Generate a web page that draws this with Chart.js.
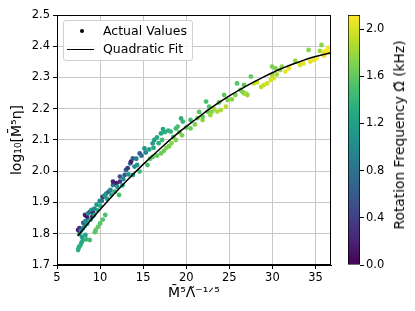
<!DOCTYPE html>
<html>
<head>
<meta charset="utf-8">
<script src="https://cdn.jsdelivr.net/npm/chart.js@4.4.0/dist/chart.umd.min.js"></script>
<style>
  html, body { margin: 0; padding: 0; background: #fff; }
  #wrap { position: relative; width: 415px; height: 311px; font-family: "DejaVu Sans", sans-serif; color: #000; }
  #mainChart { position: absolute; left: 0; top: 0; }
  #barChart { position: absolute; left: 340px; top: 0; }
  .legend {
    position: absolute; left: 63px; top: 20px; width: 128px; height: 39px;
    border: 1px solid #d0d0d0; border-radius: 3px; background: rgba(255,255,255,0.85);
    font-size: 12.5px;
  }
  .legend .row { position: absolute; left: 0; height: 16px; line-height: 16px; }
  .legend .txt { position: absolute; left: 39px; white-space: nowrap; }
  .legend .dot { position: absolute; left: 16px; top: 6px; width: 4px; height: 4px; border-radius: 50%; background: #000; }
  .legend .ln { position: absolute; left: 3px; top: 8px; width: 27px; height: 0; border-top: 1.5px solid #000; }
  .cbtitle {
    position: absolute; left: 399px; top: 135px; font-size: 13.8px; white-space: nowrap;
    transform: translate(-50%, -50%) rotate(-90deg);
  }
</style>
</head>
<body>
<div id="wrap">
  <canvas id="mainChart" width="340" height="311"></canvas>
  <canvas id="barChart" width="75" height="311"></canvas>
  <div class="legend">
    <div class="row" style="top:2px"><span class="dot"></span><span class="txt">Actual Values</span></div>
    <div class="row" style="top:20px"><span class="ln"></span><span class="txt">Quadratic Fit</span></div>
  </div>
  <div class="cbtitle">Rotation Frequency Ω̃ (kHz)</div>
</div>
<script>
// Scatter data: x = M^5 Lambda^(-1/5), y = log10[M^5 eta], colour = rotation frequency (kHz)
const massTerm = [
  7.45, 7.55, 7.7, 7.85, 8.0, 7.9, 8.4, 8.8, 8.3, 7.6,
  7.45, 7.6, 7.8, 8.0, 8.2, 8.05, 8.3, 8.5, 8.6, 8.9,
  9.1, 8.25, 8.45, 8.6, 8.8, 9.0, 9.2, 9.35, 9.6, 9.95,
  9.3, 9.7, 9.5, 9.75, 10.0, 10.3, 9.4, 10.6, 10.3, 10.5,
  10.7, 11.0, 11.2, 11.5, 11.5, 11.9, 12.3, 12.3, 10.2, 10.8,
  11.3, 11.7, 12.2, 12.0, 12.6, 10.0, 12.85, 13.0, 13.5, 13.6,
  13.8, 14.0, 13.3, 13.8, 14.3, 14.6, 14.8, 14.6, 15.15, 15.3,
  15.5, 15.7, 14.2, 13.2, 12.7, 16.1, 16.3, 16.6, 17.07, 17.5,
  16.2, 16.8, 17.2, 16.1, 16.6, 17.07, 17.4, 17.7, 18.0, 15.8,
  17.9, 17.3, 18.2, 18.8, 19.0, 19.4, 19.6, 18.5, 19.2, 20.0,
  20.5, 20.5, 21.0, 18.3, 18.8, 19.5, 21.9, 21.9, 22.3, 22.65,
  22.5, 23.0, 23.6, 24.0, 24.6, 24.8, 24.4, 23.2, 22.8, 21.5,
  21.3, 23.8, 25.7, 25.9, 26.3, 26.7, 26.7, 26.9, 27.1, 27.5,
  27.85, 26.5, 25.3, 28.2, 29.0, 29.4, 29.8, 30.15, 29.96, 30.35,
  30.9, 31.1, 31.5, 31.9, 29.96, 30.5, 28.7, 32.65, 33.6, 33.2,
  34.2, 34.4, 34.8, 35.1, 35.5, 35.7, 35.9, 36.2, 36.5, 36.6, 36.0
];
const logEta = [
  1.748, 1.757, 1.763, 1.772, 1.780, 1.790, 1.782, 1.780, 1.796, 1.800,
  1.812, 1.818, 1.810, 1.817, 1.825, 1.835, 1.840, 1.832, 1.846, 1.845,
  1.855, 1.860, 1.856, 1.865, 1.870, 1.876, 1.866, 1.880, 1.893, 1.905,
  1.860, 1.875, 1.812, 1.822, 1.833, 1.845, 1.805, 1.860, 1.918, 1.922,
  1.928, 1.935, 1.940, 1.956, 1.967, 1.962, 1.967, 1.983, 1.905, 1.912,
  1.925, 1.935, 1.924, 1.950, 1.955, 1.890, 1.988, 2.004, 2.025, 2.031,
  2.041, 2.015, 1.990, 1.988, 2.020, 2.057, 2.050, 1.999, 2.073, 2.060,
  2.020, 2.070, 2.040, 2.010, 1.975, 2.089, 2.100, 2.108, 2.121, 2.125,
  2.075, 2.090, 2.100, 2.046, 2.050, 2.057, 2.065, 2.075, 2.080, 2.040,
  2.130, 2.135, 2.127, 2.137, 2.143, 2.169, 2.159, 2.110, 2.125, 2.140,
  2.164, 2.137, 2.150, 2.090, 2.100, 2.115, 2.164, 2.175, 2.223, 2.207,
  2.191, 2.191, 2.191, 2.196, 2.207, 2.228, 2.244, 2.200, 2.180, 2.190,
  2.170, 2.220, 2.244, 2.281, 2.260, 2.249, 2.276, 2.249, 2.244, 2.303,
  2.281, 2.255, 2.230, 2.285, 2.276, 2.281, 2.292, 2.297, 2.335, 2.329,
  2.324, 2.335, 2.319, 2.329, 2.308, 2.310, 2.270, 2.353, 2.345, 2.340,
  2.388, 2.351, 2.356, 2.360, 2.385, 2.404, 2.380, 2.385, 2.395, 2.380, 2.370
];
const omega = [
  1.35, 1.3, 1.35, 1.25, 1.3, 1.2, 1.4, 1.45, 1.25, 1.1,
  0.2, 0.3, 1.05, 0.9, 1.1, 0.6, 1.0, 1.15, 0.95, 1.2,
  0.15, 0.25, 0.1, 1.05, 0.7, 1.1, 0.2, 1.0, 1.15, 1.0,
  1.2, 1.25, 1.6, 1.6, 1.55, 1.55, 1.55, 1.5, 0.2, 1.05,
  1.1, 0.6, 1.0, 0.8, 0.2, 0.15, 0.3, 0.55, 0.9, 1.2,
  1.25, 1.3, 1.5, 1.15, 1.2, 1.3, 0.6, 0.65, 0.7, 0.15,
  0.6, 1.0, 1.1, 1.25, 1.15, 0.6, 0.75, 1.45, 1.1, 1.0,
  1.5, 1.2, 0.9, 0.35, 1.05, 1.2, 1.15, 1.3, 1.25, 1.35,
  1.3, 1.35, 1.45, 1.6, 1.6, 1.65, 1.65, 1.7, 1.7, 1.55,
  1.35, 1.25, 1.4, 1.45, 1.5, 1.35, 1.4, 1.55, 1.6, 1.6,
  1.45, 1.65, 1.7, 1.75, 1.7, 1.7, 1.75, 1.6, 1.5, 1.55,
  1.6, 1.75, 1.85, 1.85, 1.9, 1.7, 1.6, 1.8, 1.8, 1.55,
  1.7, 1.65, 1.7, 1.55, 1.65, 1.75, 1.6, 1.85, 1.8, 1.6,
  1.95, 1.7, 1.75, 1.95, 1.95, 1.95, 2.0, 2.0, 1.7, 1.7,
  1.75, 1.75, 2.05, 2.05, 1.85, 1.8, 1.9, 1.75, 2.05, 2.0,
  1.75, 2.05, 2.05, 2.1, 1.8, 1.75, 2.05, 2.1, 2.1, 2.1, 2.08
];

// Quadratic fit curve
const fitX = [7.4, 9, 11, 13, 15, 17, 19, 21, 23, 25, 27, 29, 31, 33, 35, 36.8];
const fitY = [1.793, 1.846, 1.908, 1.967, 2.022, 2.073, 2.121, 2.164, 2.205, 2.241, 2.273, 2.302, 2.328, 2.349, 2.367, 2.379];

const omegaMax = 2.12;

// viridis colormap
const viridisStops = ["#440154", "#482475", "#414487", "#355f8d", "#2a788e", "#21918c",
  "#22a884", "#44bf70", "#7ad151", "#bddf26", "#fde725"];

function hexToRgb(h) {
  return [parseInt(h.slice(1, 3), 16), parseInt(h.slice(3, 5), 16), parseInt(h.slice(5, 7), 16)];
}

function viridis(t) {
  t = Math.max(0, Math.min(1, t));
  const pos = t * (viridisStops.length - 1);
  const i = Math.min(Math.floor(pos), viridisStops.length - 2);
  const f = pos - i;
  const a = hexToRgb(viridisStops[i]);
  const b = hexToRgb(viridisStops[i + 1]);
  const c = a.map((v, k) => Math.round(v + (b[k] - v) * f));
  return `rgb(${c[0]}, ${c[1]}, ${c[2]})`;
}

const tickFont = { family: "DejaVu Sans", size: 11.5 };
const titleFont = { family: "DejaVu Sans", size: 14 };

// Black frame round the plot area
const framePlugin = {
  id: "frame",
  afterDraw(chart) {
    const { ctx, chartArea: a } = chart;
    ctx.save();
    ctx.strokeStyle = "#000";
    ctx.lineWidth = 1;
    ctx.strokeRect(a.left + 0.5, a.top + 0.5, a.right - a.left - 1, a.bottom - a.top - 1);
    ctx.restore();
  },
};

new Chart(document.getElementById("mainChart"), {
  type: "scatter",
  data: {
    datasets: [
      {
        label: "Quadratic Fit",
        data: fitX.map((x, i) => ({ x: x, y: fitY[i] })),
        showLine: true,
        borderColor: "#000",
        borderWidth: 1.5,
        pointRadius: 0,
        cubicInterpolationMode: "monotone",
        order: 0,
      },
      {
        label: "Actual Values",
        data: massTerm.map((x, i) => ({ x: x, y: logEta[i] })),
        pointBackgroundColor: omega.map((w) => viridis(w / omegaMax)),
        pointBorderWidth: 0,
        pointRadius: 2.4,
        order: 1,
      },
    ],
  },
  options: {
    responsive: false,
    animation: false,
    layout: { padding: { top: 15, right: 9 } },
    plugins: { legend: { display: false }, tooltip: { enabled: false } },
    scales: {
      x: {
        type: "linear",
        min: 5,
        max: 36.8,
        ticks: { stepSize: 5, includeBounds: false, font: tickFont, color: "#000", padding: 2 },
        grid: { color: "#c8c8c8", lineWidth: 1, tickColor: "#000", tickLength: 4 },
        border: { color: "#000" },
        title: { display: true, text: "M̄⁵Λ̃⁻¹ᐟ⁵", font: titleFont, color: "#000", padding: { top: 0, bottom: 9 } },
        afterFit: (s) => { s.height = 46; },
      },
      y: {
        min: 1.7,
        max: 2.5,
        ticks: { stepSize: 0.1, font: tickFont, color: "#000", padding: 3, callback: (v) => v.toFixed(1) },
        grid: { color: "#c8c8c8", lineWidth: 1, tickColor: "#000", tickLength: 4 },
        border: { color: "#000" },
        title: { display: true, text: "log₁₀[M̄⁵η]", font: titleFont, color: "#000", padding: { top: 9, bottom: 0 } },
        afterFit: (s) => { s.width = 57; },
      },
    },
  },
  plugins: [framePlugin],
});

// Colour bar
new Chart(document.getElementById("barChart"), {
  type: "bar",
  data: {
    labels: [""],
    datasets: [
      {
        data: [omegaMax],
        backgroundColor: function (context) {
          const { ctx, chartArea } = context.chart;
          if (!chartArea) return "#888";
          const g = ctx.createLinearGradient(0, chartArea.bottom, 0, chartArea.top);
          viridisStops.forEach((c, i) => g.addColorStop(i / (viridisStops.length - 1), c));
          return g;
        },
        borderColor: "#000",
        borderWidth: 1,
        borderSkipped: false,
        barPercentage: 1,
        categoryPercentage: 1,
      },
    ],
  },
  options: {
    responsive: false,
    animation: false,
    layout: { padding: { left: 8, top: 15, bottom: 46, right: 0 } },
    plugins: { legend: { display: false }, tooltip: { enabled: false } },
    scales: {
      x: { display: false },
      y: {
        position: "right",
        min: 0,
        max: omegaMax,
        ticks: { stepSize: 0.4, includeBounds: false, font: tickFont, color: "#000", padding: 2, callback: (v) => v.toFixed(1) },
        grid: { drawOnChartArea: false, tickColor: "#000", tickLength: 4 },
        border: { display: false },
        afterFit: (s) => { s.width = 55; },
      },
    },
  },
});
</script>
</body>
</html>
